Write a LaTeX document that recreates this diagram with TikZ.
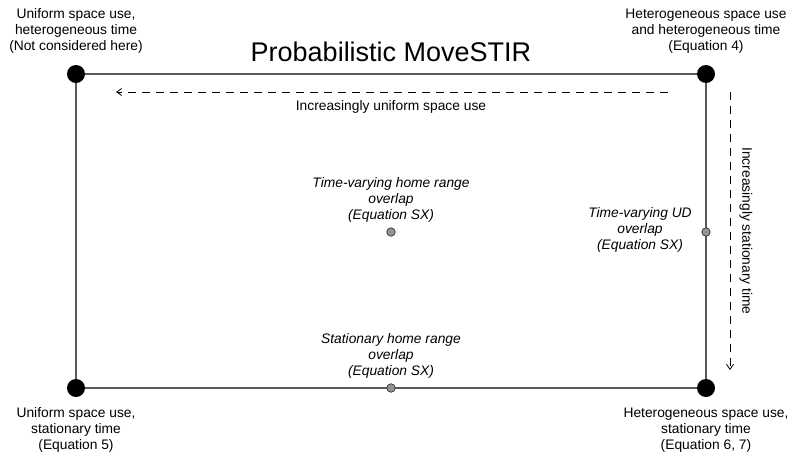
\documentclass[tikz,border=0pt]{standalone}
\usepackage{fontspec}
\setmainfont{Liberation Sans}
\usetikzlibrary{arrows.meta}
\begin{document}
\begin{tikzpicture}[x=1pt,y=-1pt,
  bigdot/.style={circle,fill=black,inner sep=0pt,minimum size=18pt},
  smalldot/.style={circle,draw=black!80,fill=gray!85,line width=0.7pt,inner sep=0pt,minimum size=8.5pt},
  edge/.style={draw=black!65,line width=1.5pt},
  lbl/.style={align=center,font=\fontsize{13.8}{16}\selectfont,inner sep=0pt},
  ilbl/.style={lbl,font=\fontsize{13.8}{16}\selectfont\itshape},
  darrow/.style={dashed,dash pattern=on 8pt off 6pt,line width=0.8pt,-{Straight Barb[length=5pt,width=7pt]}}]
\useasboundingbox (0,0) rectangle (797,464);
\coordinate (TL) at (76,74);
\coordinate (TR) at (706,74);
\coordinate (BL) at (76,388);
\coordinate (BR) at (706,388);
\coordinate (MR) at (706,232);
\coordinate (MB) at (391,388);
\draw[edge] (TL) -- (TR) -- (BR) -- (BL) -- cycle;
\node[bigdot] (ntl) at (TL) {};
\node[bigdot] (ntr) at (TR) {};
\node[bigdot] (nbl) at (BL) {};
\node[bigdot] (nbr) at (BR) {};
\node[smalldot] (nc) at (391,232) {};
\node[smalldot] (nmr) at (MR) {};
\node[smalldot] (nmb) at (MB) {};
\node[inner sep=0pt,font=\fontsize{27}{30}\selectfont] (title) at (391,52) {Probabilistic MoveSTIR};
\coordinate (ha) at (668,92);
\coordinate (hb) at (116,92);
\draw[darrow] (ha) -- (hb);
\node[lbl] (hl) at (391,107) {Increasingly uniform space use};
\coordinate (va) at (730,92);
\coordinate (vb) at (730,370);
\draw[darrow] (va) -- (vb);
\node[lbl,rotate=-90] (vl) at (746,231) {Increasingly stationary time};
\node[lbl] (ltl) at (76,31) {Uniform space use,\\heterogeneous time\\(Not considered here)};
\node[lbl] (ltr) at (706,31) {Heterogeneous space use\\and heterogeneous time\\(Equation 4)};
\node[lbl] (lbl1) at (76,430) {Uniform space use,\\stationary time\\(Equation 5)};
\node[lbl] (lbr) at (706,430) {Heterogeneous space use,\\stationary time\\(Equation 6, 7)};
\node[ilbl] (lc) at (391,200) {Time-varying home range\\overlap\\(Equation SX)};
\node[ilbl] (lmr) at (640,230) {Time-varying UD\\overlap\\(Equation SX)};
\node[ilbl] (lmb) at (391,356) {Stationary home range\\overlap\\(Equation SX)};
\end{tikzpicture}
\end{document}
